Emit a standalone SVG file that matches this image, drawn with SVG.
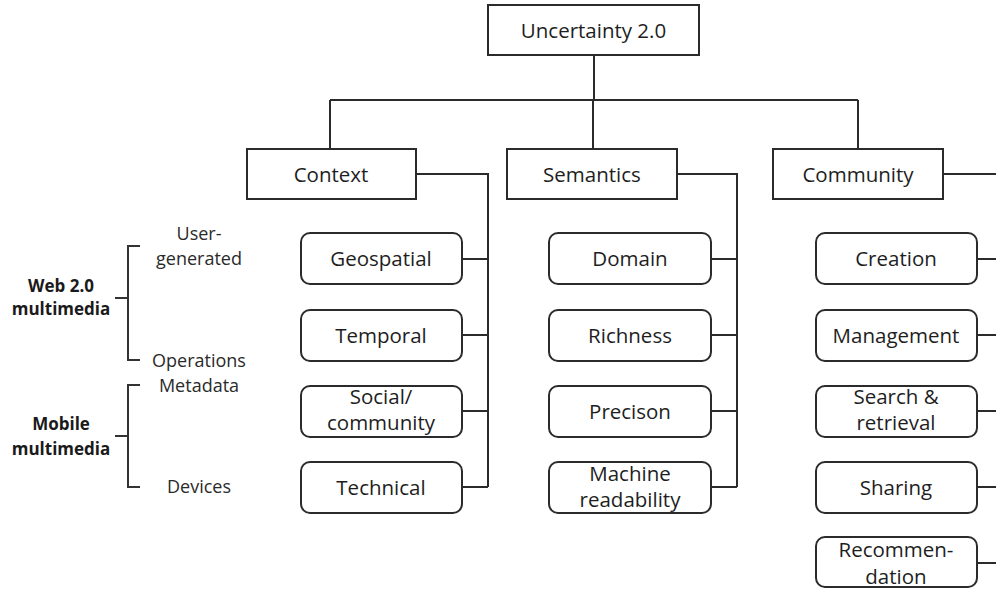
<svg xmlns="http://www.w3.org/2000/svg" width="996" height="589" viewBox="0 0 996 589">
  <style>
    .box { fill: #ffffff; stroke: #2b2b2b; stroke-width: 2; }
    .lbl { font-family: "Open Sans", "Liberation Sans", sans-serif; font-size: 20.5px; fill: #1e1e1e; text-anchor: middle; }
    .side { font-family: "Open Sans", "Liberation Sans", sans-serif; font-size: 18px; fill: #2a2a2a; text-anchor: middle; }
    .grp { font-family: "Open Sans", "Liberation Sans", sans-serif; font-size: 17px; font-weight: bold; fill: #1a1a1a; text-anchor: middle; }
    .wire { fill: none; stroke: #2b2b2b; stroke-width: 2; }
    .brace { fill: none; stroke: #333333; stroke-width: 2; }
  </style>
  <rect width="996" height="589" fill="#ffffff"/>

  <!-- tree connectors -->
  <g id="connectors">
    <path class="wire" d="M594 55 V100 M330 100 H858 M330 100 V149 M593 100 V149 M858 100 V149"/>
    <!-- Context branch -->
    <path class="wire" d="M416 174 H488 V487 M462 259 H488 M462 335 H488 M462 411 H488 M462 487 H488"/>
    <!-- Semantics branch -->
    <path class="wire" d="M677 174 H737 V487 M711 259 H737 M711 335 H737 M711 411 H737 M711 487 H737"/>
    <!-- Community branch (runs off the right edge) -->
    <path class="wire" d="M943 174 H998 M977 259 H998 M977 335 H998 M977 411 H998 M977 487 H998 M977 563 H998"/>
  </g>

  <!-- side brackets -->
  <g id="web20">
    <path class="brace" d="M140 246 H128 V360 H140"/>
    <path class="brace" stroke-width="2.5" d="M115 298 H128"/>
    <text class="grp" x="61" y="292">Web 2.0</text>
    <text class="grp" x="61" y="315">multimedia</text>
  </g>
  <g id="mobile">
    <path class="brace" d="M140 385 H128 V487 H140"/>
    <path class="brace" stroke-width="2.5" d="M115 436 H128"/>
    <text class="grp" x="61" y="430">Mobile</text>
    <text class="grp" x="61" y="455">multimedia</text>
  </g>
  <g id="side-labels">
    <text class="side" x="199" y="240">User-</text>
    <text class="side" x="199" y="265">generated</text>
    <text class="side" x="199" y="367">Operations</text>
    <text class="side" x="199" y="392">Metadata</text>
    <text class="side" x="199" y="493">Devices</text>
  </g>

  <!-- root -->
  <g id="uncertainty">
    <rect class="box" x="488" y="5" width="211" height="50"/>
    <text class="lbl" x="593.5" y="38">Uncertainty 2.0</text>
  </g>

  <!-- categories -->
  <g id="context">
    <rect class="box" x="247" y="149" width="169" height="50"/>
    <text class="lbl" x="331" y="182">Context</text>
  </g>
  <g id="semantics">
    <rect class="box" x="507" y="149" width="170" height="50"/>
    <text class="lbl" x="592" y="182">Semantics</text>
  </g>
  <g id="community">
    <rect class="box" x="773" y="149" width="170" height="50"/>
    <text class="lbl" x="858" y="182">Community</text>
  </g>

  <!-- Context items -->
  <g id="geospatial">
    <rect class="box" x="301" y="233" width="161" height="51" rx="9"/>
    <text class="lbl" x="381" y="266">Geospatial</text>
  </g>
  <g id="temporal">
    <rect class="box" x="301" y="310" width="161" height="51" rx="9"/>
    <text class="lbl" x="381" y="343">Temporal</text>
  </g>
  <g id="social">
    <rect class="box" x="301" y="386" width="161" height="51" rx="9"/>
    <text class="lbl" x="381" y="404">Social/</text>
    <text class="lbl" x="381" y="430">community</text>
  </g>
  <g id="technical">
    <rect class="box" x="301" y="462" width="161" height="51" rx="9"/>
    <text class="lbl" x="381" y="495">Technical</text>
  </g>

  <!-- Semantics items -->
  <g id="domain">
    <rect class="box" x="549" y="233" width="162" height="51" rx="9"/>
    <text class="lbl" x="630" y="266">Domain</text>
  </g>
  <g id="richness">
    <rect class="box" x="549" y="310" width="162" height="51" rx="9"/>
    <text class="lbl" x="630" y="343">Richness</text>
  </g>
  <g id="precision">
    <rect class="box" x="549" y="386" width="162" height="51" rx="9"/>
    <text class="lbl" x="630" y="419">Precison</text>
  </g>
  <g id="machine">
    <rect class="box" x="549" y="462" width="162" height="51" rx="9"/>
    <text class="lbl" x="630" y="481">Machine</text>
    <text class="lbl" x="630" y="507">readability</text>
  </g>

  <!-- Community items -->
  <g id="creation">
    <rect class="box" x="816" y="233" width="161" height="51" rx="9"/>
    <text class="lbl" x="896" y="266">Creation</text>
  </g>
  <g id="management">
    <rect class="box" x="816" y="310" width="161" height="51" rx="9"/>
    <text class="lbl" x="896" y="343">Management</text>
  </g>
  <g id="search">
    <rect class="box" x="816" y="386" width="161" height="51" rx="9"/>
    <text class="lbl" x="896" y="404">Search &amp;</text>
    <text class="lbl" x="896" y="430">retrieval</text>
  </g>
  <g id="sharing">
    <rect class="box" x="816" y="462" width="161" height="51" rx="9"/>
    <text class="lbl" x="896" y="495">Sharing</text>
  </g>
  <g id="recommendation">
    <rect class="box" x="816" y="537" width="161" height="50" rx="9"/>
    <text class="lbl" x="896" y="557">Recommen-</text>
    <text class="lbl" x="896" y="584">dation</text>
  </g>
</svg>
